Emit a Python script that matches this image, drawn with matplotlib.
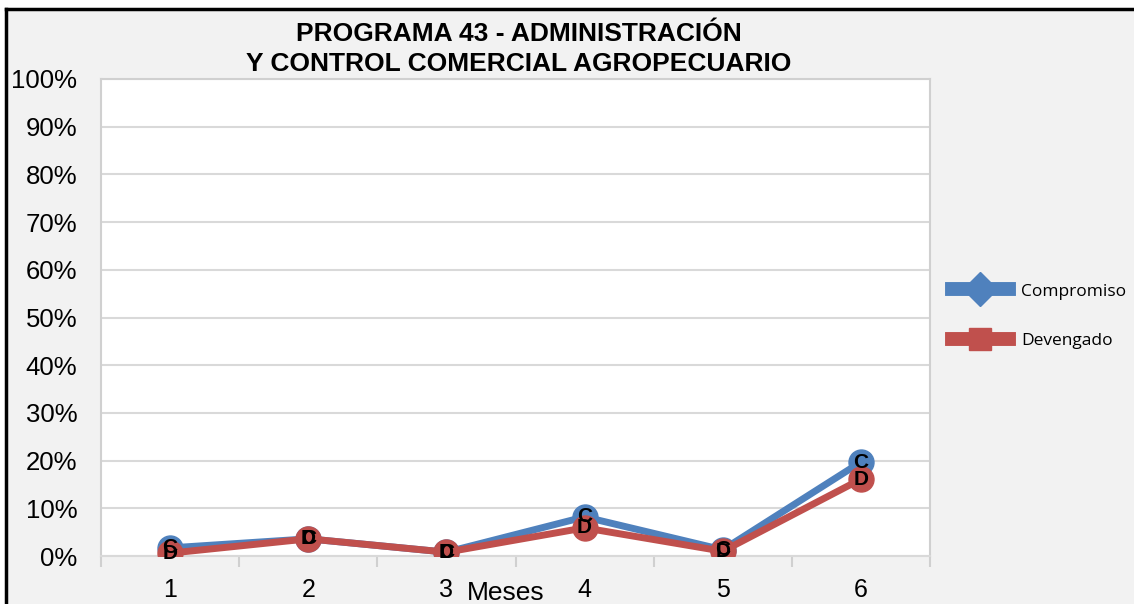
import matplotlib
matplotlib.use("Agg")
import matplotlib.pyplot as plt
from matplotlib.lines import Line2D

months = [1, 2, 3, 4, 5, 6]
compromiso = [1.7, 3.6, 0.8, 8.2, 1.3, 19.7]
devengado = [0.6, 3.6, 0.8, 5.9, 1.0, 16.1]
yticks = [0, 10, 20, 30, 40, 50, 60, 70, 80, 90, 100]
ytick_labels = [f"{v}%" for v in yticks]
title = "PROGRAMA 43 - ADMINISTRACIÓN\nY CONTROL COMERCIAL AGROPECUARIO"

blue = "#4F81BD"
red = "#C0504D"
bg = "#F2F2F2"

W, H = 1134, 604
fig = plt.figure(figsize=(W / 100, H / 100), dpi=100, facecolor=bg)
ax = fig.add_axes([101 / W, (H - 556) / H, (930 - 101) / W, (556 - 79) / H])
ax.set_facecolor("white")

ax.set_xlim(0.5, 6.5)
ax.set_ylim(0, 100)
ax.set_yticks(yticks)
ax.set_yticklabels(ytick_labels)
ax.yaxis.grid(True, color="#D9D9D9", linewidth=1.5)
ax.set_axisbelow(True)

for s in ["top", "right", "left"]:
    ax.spines[s].set_color("#D0D0D0")
    ax.spines[s].set_linewidth(1.5)
ax.spines["bottom"].set_color("#D9D9D9")
ax.spines["bottom"].set_linewidth(1.5)

ax.tick_params(axis="y", length=0, pad=17, labelsize=18.5, labelfontfamily="Liberation Sans")
ax.set_xticks(months)
ax.set_xticklabels([str(m) for m in months])
ax.tick_params(axis="x", length=0, pad=16, labelsize=18, labelfontfamily="Liberation Sans")
ax.set_xticks([0.5 + i for i in range(7)], minor=True)
ax.tick_params(axis="x", which="minor", length=8, width=1.5, color="#D0D0D0", direction="out")

ax.plot(months, compromiso, color=blue, linewidth=5, marker="o", markersize=18,
        markerfacecolor=blue, markeredgecolor=blue, zorder=3,
        solid_joinstyle="round", solid_capstyle="round")
ax.plot(months, devengado, color=red, linewidth=5, marker="o", markersize=18,
        markerfacecolor=red, markeredgecolor=red, zorder=4,
        solid_joinstyle="round", solid_capstyle="round")

for x, c, d in zip(months, compromiso, devengado):
    ax.text(x, c, "C", ha="center", va="center", fontsize=15, fontweight="bold",
            color="black", family="Liberation Sans", zorder=5)
    ax.text(x, d, "D", ha="center", va="center", fontsize=15, fontweight="bold",
            color="black", family="Liberation Sans", zorder=6)

fig.text(519 / W, 1 - 49 / H, title, ha="center", va="center", fontsize=19,
         fontweight="bold", family="Liberation Sans", linespacing=1.3)
fig.text(506 / W, 1 - 593 / H, "Meses", ha="center", va="center", fontsize=19,
         family="Liberation Sans")

handles = [
    Line2D([], [], color=blue, linewidth=10, marker="D", markersize=17,
           markerfacecolor=blue, markeredgecolor=blue),
    Line2D([], [], color=red, linewidth=10, marker="s", markersize=16,
           markerfacecolor=red, markeredgecolor=red),
]
fig.legend(handles, ["Compromiso", "Devengado"], loc="center left",
           bbox_to_anchor=(936 / W, 1 - 316 / H), frameon=False,
           prop={"family": "Open Sans", "size": 12.5}, handlelength=3.3,
           labelspacing=1.9, handletextpad=0.7)

# outer black frame (left & top visible)
fig.add_artist(Line2D([6 / W, 6 / W], [0, 1 - 9 / H], color="black", linewidth=2.5,
                      transform=fig.transFigure))
fig.add_artist(Line2D([6 / W, 1], [1 - 9 / H, 1 - 9 / H], color="black", linewidth=2.5,
                      transform=fig.transFigure))
fig.add_artist(plt.Rectangle((0, 1 - 8 / H), 1, 8 / H, transform=fig.transFigure,
                             facecolor="white", edgecolor="none", zorder=-1))
fig.add_artist(plt.Rectangle((0, 0), 5 / W, 1, transform=fig.transFigure,
                             facecolor="white", edgecolor="none", zorder=-1))

fig.savefig("out.png", dpi=100, facecolor=bg)
